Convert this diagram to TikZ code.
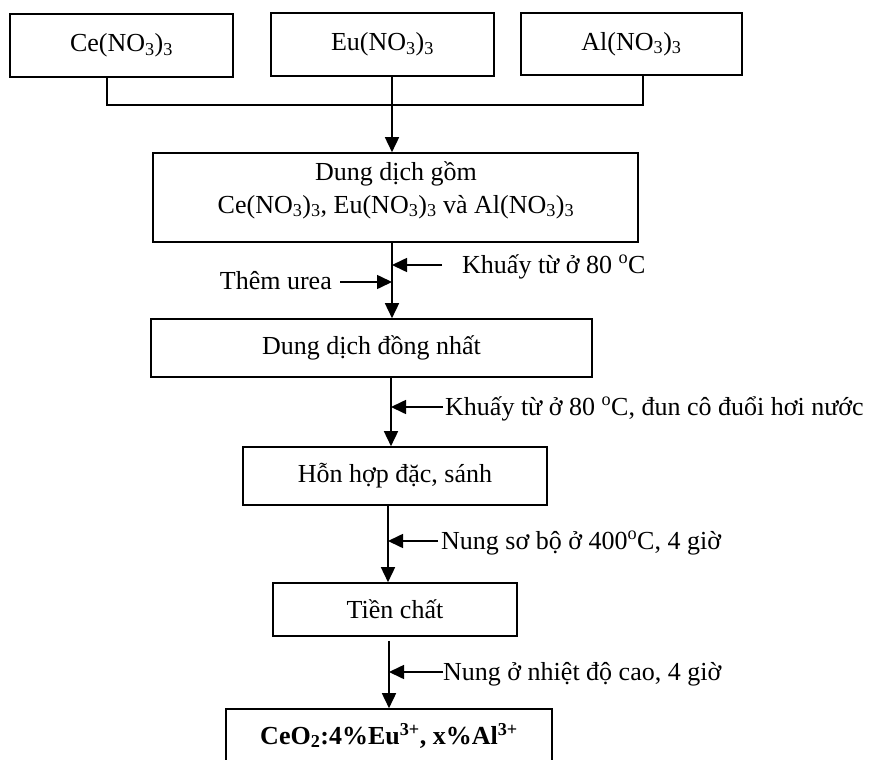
\documentclass[tikz,border=0pt]{standalone}
\usepackage{fontspec}
\setmainfont{Liberation Serif}
\usetikzlibrary{arrows.meta}
\begin{document}
\begin{tikzpicture}[x=1pt,y=-1pt,
  every node/.style={font=\fontsize{26pt}{33pt}\selectfont},
  box/.style={draw, line width=1.6pt, inner sep=0pt},
  ln/.style={line width=1.6pt},
  arr/.style={line width=1.6pt, -{Triangle[length=15pt,width=14pt]}},
  lbl/.style={anchor=base west, inner sep=0pt}]
\useasboundingbox (0,0) rectangle (873,760);

% top boxes
\node[box, minimum width=223pt, minimum height=63pt] (ce) at (121.5,45.5) {Ce(NO\textsubscript{3})\textsubscript{3}};
\node[box, minimum width=223pt, minimum height=63pt] (eu) at (382.5,44.5) {Eu(NO\textsubscript{3})\textsubscript{3}};
\node[box, minimum width=221pt, minimum height=62pt] (al) at (631.5,44) {Al(NO\textsubscript{3})\textsubscript{3}};

% column coordinates
\coordinate (c1) at (392,0);
\coordinate (c2) at (391,0);
\coordinate (c3) at (388,0);
\coordinate (c4) at (389,0);
\coordinate (jce) at (107,105);
\coordinate (jal) at (643,105);

% process boxes
\node[box, minimum width=485pt, minimum height=89pt] (d1) at (395.5,197.5) {};
\node[align=center, inner sep=0pt] (d1t) at (396,190) {Dung dịch gồm\\Ce(NO\textsubscript{3})\textsubscript{3}, Eu(NO\textsubscript{3})\textsubscript{3} và Al(NO\textsubscript{3})\textsubscript{3}};
\node[box, minimum width=441pt, minimum height=58pt] (d2) at (371.5,348) {Dung dịch đồng nhất};
\node[box, minimum width=304pt, minimum height=58pt] (d3) at (395,476) {Hỗn hợp đặc, sánh};
\node[box, minimum width=244pt, minimum height=53pt] (d4) at (395,609.5) {Tiền chất};
\node[box, minimum width=326pt, minimum height=53pt] (d5) at (389,735.5) {\textbf{CeO\textsubscript{2}:4\%Eu\textsuperscript{3+}, x\%Al\textsuperscript{3+}}};

% merging connector
\draw[ln] (ce.south -| jce) -- (jce) -- (jal) -- (al.south -| jal);
\draw[arr] (eu.south -| c1) -- (d1.north -| c1);

% main flow
\draw[arr] (d1.south -| c1) -- (d2.north -| c1);
\draw[arr] (d2.south -| c2) -- (d3.north -| c2);
\draw[arr] (d3.south -| c3) -- (d4.north -| c3);
\draw[arr] ([yshift=-4pt]d4.south -| c4) -- (d5.north -| c4);

% side labels
\node[lbl] (t1) at (462,273) {Khuấy từ ở 80 \textsuperscript{o}C};
\draw[arr] ([xshift=-20pt,yshift=8pt]t1.base west) -- ([yshift=8pt]t1.base west -| c1);

\node[lbl, anchor=base east] (t2) at (332,289) {Thêm urea};
\draw[arr] ([xshift=8pt,yshift=7pt]t2.base east) -- ([yshift=7pt]t2.base east -| c1);

\node[lbl] (t3) at (445,415) {Khuấy từ ở 80 \textsuperscript{o}C, đun cô đuổi hơi nước};
\draw[arr] ([xshift=-2pt,yshift=8pt]t3.base west) -- ([yshift=8pt]t3.base west -| c2);

\node[lbl] (t4) at (441,549) {Nung sơ bộ ở 400\textsuperscript{o}C, 4 giờ};
\draw[arr] ([xshift=-3pt,yshift=8pt]t4.base west) -- ([yshift=8pt]t4.base west -| c3);

\node[lbl] (t5) at (443,680) {Nung ở nhiệt độ cao, 4 giờ};
\draw[arr] ([yshift=8pt]t5.base west) -- ([yshift=8pt]t5.base west -| c4);
\end{tikzpicture}
\end{document}
